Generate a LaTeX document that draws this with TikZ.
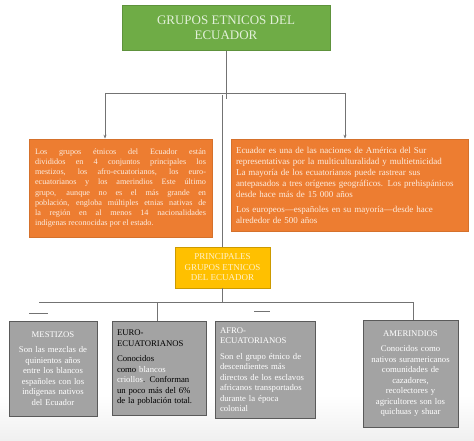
\documentclass[tikz,border=0pt]{standalone}
\usepackage{fontspec}
\setmainfont{Liberation Serif}
\usetikzlibrary{arrows.meta}
\definecolor{verde}{HTML}{6FAC46}
\definecolor{verdeclaro}{HTML}{E2F0D9}
\definecolor{naranja}{HTML}{ED7D31}
\definecolor{crema}{HTML}{FDEBDD}
\definecolor{oro}{HTML}{FFC000}
\definecolor{amarillotexto}{HTML}{FFF2CC}
\definecolor{grismedio}{HTML}{A3A3A3}
\definecolor{grisoscuro}{HTML}{5A5A5A}

\begin{document}
\begin{tikzpicture}[x=1pt,y=-1pt,
    linea/.style={draw=gray!90!black,line width=0.8pt},
    flecha/.style={linea,-{Stealth[length=4pt,width=3pt]}},
    caja/.style={line width=0.7pt,inner xsep=6pt,inner ysep=4pt,font=\fontsize{8.2}{10.2}\selectfont},
    titulo/.style={caja,fill=verde,draw=verde!85!black,text=verdeclaro,align=center,
      minimum width=208pt,minimum height=45pt,font=\fontsize{13}{15}\selectfont},
    naranja/.style={caja,fill=naranja,draw=naranja!90!black,text=crema},
    amarillo/.style={caja,fill=oro,draw=oro!80!black,text=amarillotexto,align=center,
      minimum width=95pt,minimum height=41pt,font=\fontsize{9}{10.5}\selectfont},
    gris/.style={caja,inner xsep=5pt,fill=grismedio,draw=grisoscuro,line width=1pt,text=white,
      font=\fontsize{8.7}{10.5}\selectfont}]
\useasboundingbox (0,0) rectangle (474,441);
\shade[top color=white,bottom color=gray!12] (0,395) rectangle (474,441);

\node[titulo] (titulo) at (226,28) {GRUPOS ETNICOS DEL\\ECUADOR};

\node[naranja,text width=171pt,minimum height=98pt,align=justify] (grupos) at (120.5,188)
  {Los grupos étnicos del Ecuador están\linebreak
   divididos en 4 conjuntos principales los\linebreak
   mestizos, los afro-ecuatorianos, los euro-\linebreak
   ecuatorianos y los amerindios Este último\linebreak
   grupo, aunque no es el más grande en\linebreak
   población, engloba múltiples etnias nativas de\linebreak
   la región en al menos 14 nacionalidades\linebreak
   indígenas reconocidas por el estado.};

\node[naranja,inner xsep=5pt,text width=227pt,minimum height=92pt,align=left,
      font=\fontsize{9}{11}\selectfont] (origen) at (349.5,185)
  {Ecuador es una de las naciones de América del Sur\\
   representativas por la multiculturalidad y multietnicidad\\
   La mayoría de los ecuatorianos puede rastrear sus\\
   antepasados a tres orígenes geográficos. Los prehispánicos\\
   desde hace más de 15 000 años\\[4pt]
   Los europeos—españoles en su mayoría—desde hace\\
   alrededor de 500 años};

\node[amarillo] (principales) at (222.5,267.5) {PRINCIPALES\\GRUPOS ETNICOS\\DEL ECUADOR};

\node[gris,text width=78pt,minimum height=95pt,align=center] (mestizos) at (53,368.5)
  {MESTIZOS\\[5pt]
   Son las mezclas de\\ quinientos años\\ entre los blancos\\ españoles con los\\
   indígenas nativos\\ del Ecuador};

\node[gris,text=black,text width=84pt,minimum height=94pt,align=left] (euro) at (159,368)
  {EURO-\\ECUATORIANOS\\[5pt]
   Conocidos\\ como \textcolor{white}{blancos}\\ \textcolor{white}{criollos}. Conforman\\
   un poco más del 6\%\\ de la población total.};

\node[gris,text width=90pt,minimum height=97pt,align=left] (afro) at (265,369.5)
  {AFRO-\\ECUATORIANOS\\[5pt]
   Son el grupo étnico de\\ descendientes más\\ directos de los esclavos\\
   africanos transportados\\ durante la época\\ colonial};

\node[gris,text width=85pt,minimum height=107pt,align=center] (amer) at (410.5,373.5)
  {AMERINDIOS\\[5pt]
   Conocidos como\\ nativos suramericanos\\ comunidades de\\ cazadores,\\
   recolectores y\\ agricultores son los\\ quichuas y shuar};

\coordinate (ramaizq) at (105,93);
\coordinate (ramader) at (345,93);
\draw[linea] (titulo.south) -- (titulo.south |- 0,99);
\draw[linea] (ramaizq) -- (ramader);
\draw[flecha] (ramaizq) -- (ramaizq |- grupos.north);
\draw[flecha] (ramader) -- (ramader |- origen.north);
\draw[linea] (principales.north |- 0,95) -- (principales.north);

\coordinate (baseizq) at (39,302);
\coordinate (baseder) at (413,302);
\draw[linea] (principales.south) -- (principales.south |- baseizq);
\draw[linea] (baseizq) -- (baseder);
\draw[linea] (157,302) -- (157,302 |- euro.north);
\draw[linea] (baseder) -- (baseder |- amer.north);
\draw[linea] (29,313) -- (48,313);
\draw[linea] (254,311) -- (270,311);
\end{tikzpicture}
\end{document}
